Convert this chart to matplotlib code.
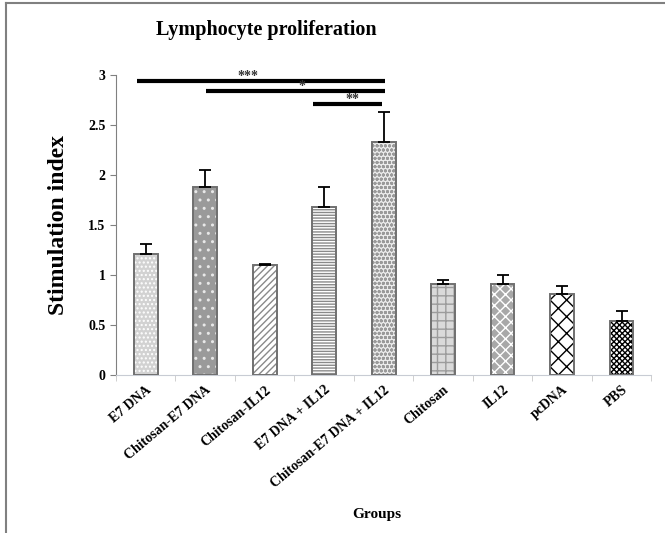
import numpy as np
import matplotlib.pyplot as plt
from matplotlib.lines import Line2D

# data
groups = ['E7 DNA', 'Chitosan-E7 DNA', 'Chitosan-IL12', 'E7 DNA + IL12',
          'Chitosan-E7 DNA + IL12', 'Chitosan', 'IL12', 'pcDNA', 'PBS']
means = [1.21, 1.88, 1.10, 1.68, 2.33, 0.91, 0.91, 0.81, 0.54]
errors = [0.10, 0.17, 0.01, 0.20, 0.30, 0.04, 0.09, 0.08, 0.10]

# significance lines: start, end, height, star position, label
sig_x0 = [-0.15, 1.02, 2.82]
sig_x1 = [4.03, 4.03, 3.98]
sig_y = [2.94, 2.84, 2.71]
sig_star_x = [1.72, 2.63, 3.47]
sig_labels = ['***', '*', '**']

# bar fill styles: face colour, hatch, hatch colour
faces = ['#d2d2d2', '#9a9a9a', 'white', 'white', '#ececec', '#dadada', '#a8a8a8', 'white', 'white']
hatches = ['....', '..', '/////', '------', 'oooo', '++', 'xxx', 'xx', 'xxxxxx']
hatch_cols = ['white', '#e8e8e8', '#8a8a8a', '#8a8a8a', '#9a9a9a', '#9c9c9c', 'white', 'black', 'black']

plt.rcParams['font.family'] = 'Liberation Serif'
plt.rcParams['font.weight'] = 'bold'
plt.rcParams['hatch.linewidth'] = 1.0

fig = plt.figure(figsize=(6.65, 5.33), dpi=100)
ax = fig.add_axes([0.1744, 0.2964, 0.805, 0.5629])

x = np.arange(len(groups))
w = 0.4
for i in range(len(groups)):
    ax.bar(x[i], means[i], w, color=faces[i], hatch=hatches[i],
           edgecolor=hatch_cols[i], linewidth=0, zorder=2)
ax.bar(x, means, w, fill=False, edgecolor='#707070', linewidth=1.4, zorder=3)
ax.errorbar(x, means, yerr=[np.zeros(len(errors)), errors], fmt='none',
            ecolor='black', elinewidth=1.3, capsize=4, capthick=1.3, zorder=4)

for x0, x1, y, sx, lab in zip(sig_x0, sig_x1, sig_y, sig_star_x, sig_labels):
    ax.plot([x0, x1], [y, y], color='black', lw=3, solid_capstyle='butt',
            clip_on=False, zorder=5)
    ax.text(sx, y + 0.005, lab, ha='center', va='baseline',
            fontsize=10, color='#333333', zorder=6, clip_on=False)

ax.set_xlim(-0.5, 8.5)
ax.set_ylim(0, 3)
ax.set_yticks(np.arange(0, 3.01, 0.5))
ax.set_yticklabels(['0', '0.5', '1', '1.5', '2', '2.5', '3'], fontsize=10)
ax.set_xticks(x)
ax.set_xticklabels(groups, rotation=40, ha='right', rotation_mode='anchor', fontsize=10)
ax.tick_params(axis='x', length=0, pad=6)
ax.set_xticks(np.arange(-0.5, 9, 1), minor=True)
ax.tick_params(axis='x', which='minor', length=4, color='#c8c8c8')
ax.tick_params(axis='y', length=4, color='#808080')

for s in ['top', 'right']:
    ax.spines[s].set_visible(False)
ax.spines['left'].set_color('#808080')
ax.spines['bottom'].set_color('#c8ccd4')

ax.set_ylabel('Stimulation index', fontsize=17, fontweight='bold', labelpad=14)
fig.text(0.40, 0.944, 'Lymphocyte proliferation', ha='center', va='center',
         fontsize=14.5, fontweight='bold')
fig.text(0.567, 0.034, 'Groups', ha='center', va='center', fontsize=11, fontweight='bold')

# figure frame (left and top edges only)
fig.add_artist(Line2D([0.009, 0.009], [0.0, 0.994], color='#808080', lw=1.5))
fig.add_artist(Line2D([0.009, 1.0], [0.994, 0.994], color='#808080', lw=1.5))

fig.savefig('out.png', dpi=100)
